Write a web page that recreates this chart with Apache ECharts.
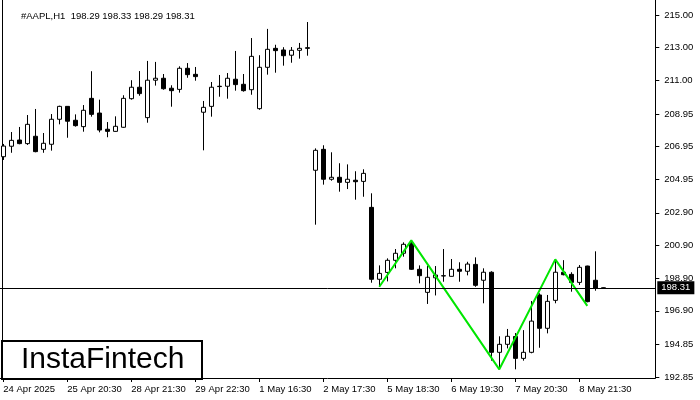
<!DOCTYPE html>
<html><head><meta charset="utf-8">
<script src="https://cdn.jsdelivr.net/npm/echarts@6/dist/echarts.min.js"></script>
<style>html,body{margin:0;padding:0;background:#fff}#c{width:700px;height:400px}</style>
</head><body><div id="c"></div>
<script>
const symbolName = '#AAPL,H1';
const tradingDays = ['24 Apr','25 Apr','28 Apr','29 Apr','30 Apr','1 May','2 May','5 May','6 May','7 May','8 May','9 May'];
const sessionHours = ['16:30','17:30','18:30','19:30','20:30','21:30','22:30'];
const xTickLabels = ['24 Apr 2025','25 Apr 20:30','28 Apr 21:30','29 Apr 22:30','1 May 16:30','2 May 17:30','5 May 18:30','6 May 19:30','7 May 20:30','8 May 21:30'];
const yTickValues = [192.85,194.85,196.90,198.90,200.90,202.90,204.95,206.95,208.95,211.00,213.00,215.00];

const opens = [206.33,206.97,207.35,207.13,207.58,206.78,207.09,208.62,209.41,208.56,
208.17,209.90,209.00,208.01,207.88,208.13,209.88,210.58,208.72,211.01,
211.13,210.52,210.45,211.74,211.37,209.05,209.41,210.64,210.64,211.07,
210.76,210.43,209.27,211.80,212.96,212.86,212.54,212.84,213.00,205.50,
206.78,204.95,205.07,204.76,204.89,204.82,203.23,198.83,199.25,199.99,
200.42,201.03,199.44,198.03,198.92,199.03,199.01,199.44,199.32,199.74,
198.77,199.26,194.36,194.85,195.33,193.99,194.36,197.87,195.83,197.54,
199.26,199.13,198.64,199.64,198.77,198.29];
const highs = [207.11,207.84,208.15,208.88,209.25,207.78,208.94,209.45,209.43,208.92,
209.49,211.56,209.82,208.45,208.80,210.09,211.01,211.57,212.19,212.13,
211.39,210.70,211.86,212.06,211.82,209.74,210.90,211.33,211.45,212.80,
211.39,213.59,212.54,214.15,213.18,213.03,213.04,213.29,214.57,206.84,
207.03,206.60,205.93,205.86,205.44,205.56,204.09,199.68,200.11,200.68,
201.09,201.21,199.68,199.66,199.64,200.68,200.07,199.87,199.90,200.17,
199.50,199.32,195.34,195.79,195.54,195.72,197.50,197.97,197.87,200.05,
200.00,199.26,199.70,199.66,200.54,198.33];
const lows = [206.13,206.57,207.09,207.05,206.60,206.57,206.70,208.31,207.49,208.17,
207.86,208.78,207.82,207.52,207.86,208.10,209.82,210.06,208.41,210.68,
210.43,209.39,210.25,211.16,210.98,206.72,208.78,210.00,209.88,210.37,
210.31,210.12,209.20,211.35,211.47,211.90,212.08,212.33,212.51,202.17,
204.62,204.86,204.19,204.35,203.70,203.88,198.62,198.37,198.70,199.50,
200.21,199.40,198.58,197.32,197.84,198.68,199.00,198.68,199.07,198.37,
197.36,193.85,193.32,194.60,193.32,193.85,194.30,194.64,195.52,197.36,
199.07,198.07,198.48,197.42,198.13,198.29];
const closes = [206.98,207.33,207.13,208.31,206.64,207.15,208.62,209.41,208.50,208.23,
209.17,208.92,207.96,207.88,208.19,209.90,210.58,210.19,211.01,211.13,
210.49,210.37,211.74,211.35,211.23,209.35,210.58,210.62,211.13,210.74,
210.37,212.47,211.80,212.90,212.82,212.51,212.84,212.96,212.96,206.72,
204.95,205.07,204.76,204.95,204.80,205.31,198.83,199.19,199.99,200.42,
200.97,199.44,199.05,198.95,199.09,199.05,199.44,199.32,199.76,198.46,
199.26,194.36,194.85,195.34,193.99,194.36,196.27,195.83,197.48,199.26,
199.11,198.64,199.56,197.46,198.29,198.31];
const patternIdx = [47,51,62,69,73];
const patternVal = [198.37,201.21,193.32,200.05,197.20];

const totalSlots = 82;
const times = [];
tradingDays.forEach(d => sessionHours.forEach(h => times.push(d + ' ' + h)));
const categories = times.slice(3, 3 + totalSlots);
while (categories.length < totalSlots) categories.push('');

const n = opens.length;
const last = n - 1;
const candleData = opens.map((o, i) => [o, closes[i], lows[i], highs[i]]);
const patternData = patternIdx.map((x, i) => [x, patternVal[i]]);
const titleText = symbolName + '  ' + [opens[last], highs[last], lows[last], closes[last]].map(v => v.toFixed(2)).join(' ');

const FONT = 'Liberation Sans';
const yMin = 192.789, yMax = 215.918;
const chart = echarts.init(document.getElementById('c'), null, {renderer: 'canvas'});
chart.setOption({
  animation: false,
  backgroundColor: '#fff',
  title: {text: titleText, left: 16, top: 6, textStyle: {fontSize: 9.5, fontWeight: 'normal', color: '#000', fontFamily: FONT}},
  grid: {left: -0.7, right: 44.7, top: 0, bottom: 22, outerBoundsMode: 'none', containLabel: false},
  xAxis: {
    type: 'category', data: categories, boundaryGap: true,
    axisLine: {show: true, lineStyle: {color: '#000', width: 1}},
    axisTick: {show: true, alignWithLabel: true, length: 4, lineStyle: {color: '#000'},
      interval: (i) => i % 8 === 0 && i < n},
    axisLabel: {interval: (i) => i % 8 === 0 && i < n, align: 'left', margin: 6,
      color: '#000', fontSize: 9.5, fontFamily: FONT,
      formatter: (v, i) => (i % 8 === 0 && xTickLabels[i / 8]) ? xTickLabels[i / 8] : ''},
    splitLine: {show: false}
  },
  yAxis: [{
    type: 'value', position: 'right', min: yMin, max: yMax,
    axisLine: {show: true, lineStyle: {color: '#000', width: 1}},
    axisTick: {show: true, customValues: yTickValues, length: 4, lineStyle: {color: '#000'}},
    axisLabel: {customValues: yTickValues, formatter: (v) => v.toFixed(2), color: '#000', fontSize: 9.5, fontFamily: FONT, margin: 9},
    splitLine: {show: false}
  }, {
    type: 'value', position: 'left', offset: -3, min: yMin, max: yMax,
    axisLine: {show: true, lineStyle: {color: '#000', width: 1}},
    axisTick: {show: false}, axisLabel: {show: false}, splitLine: {show: false}
  }],
  series: [{
    type: 'candlestick', data: candleData, barWidth: 4, yAxisIndex: 0,
    itemStyle: {color: '#fff', color0: '#000', borderColor: '#000', borderColor0: '#000', borderColorDoji: '#000', borderWidth: 1},
    markLine: {
      silent: true, symbol: ['none', 'none'], animation: false,
      lineStyle: {color: '#000', type: 'solid', width: 1},
      label: {position: 'end', distance: 2, formatter: closes[last].toFixed(2), backgroundColor: '#000', color: '#fff',
        padding: [2, 4, 1, 4], fontSize: 9.5, fontFamily: FONT},
      data: [{yAxis: closes[last]}]
    }
  }, {
    type: 'line', data: patternData, yAxisIndex: 0, symbol: 'none',
    lineStyle: {color: '#00e600', width: 2}, z: 3
  }],
  graphic: [{
    type: 'group', left: 1, top: 340,
    children: [
      {type: 'rect', shape: {x: 0, y: 0, width: 200, height: 38}, style: {fill: '#fff', stroke: '#000', lineWidth: 2}},
      {type: 'text', x: 19, y: 19, style: {text: 'InstaFintech', font: '30px "Liberation Sans"', fill: '#000', verticalAlign: 'middle'}}
    ]
  }]
});
</script></body></html>
